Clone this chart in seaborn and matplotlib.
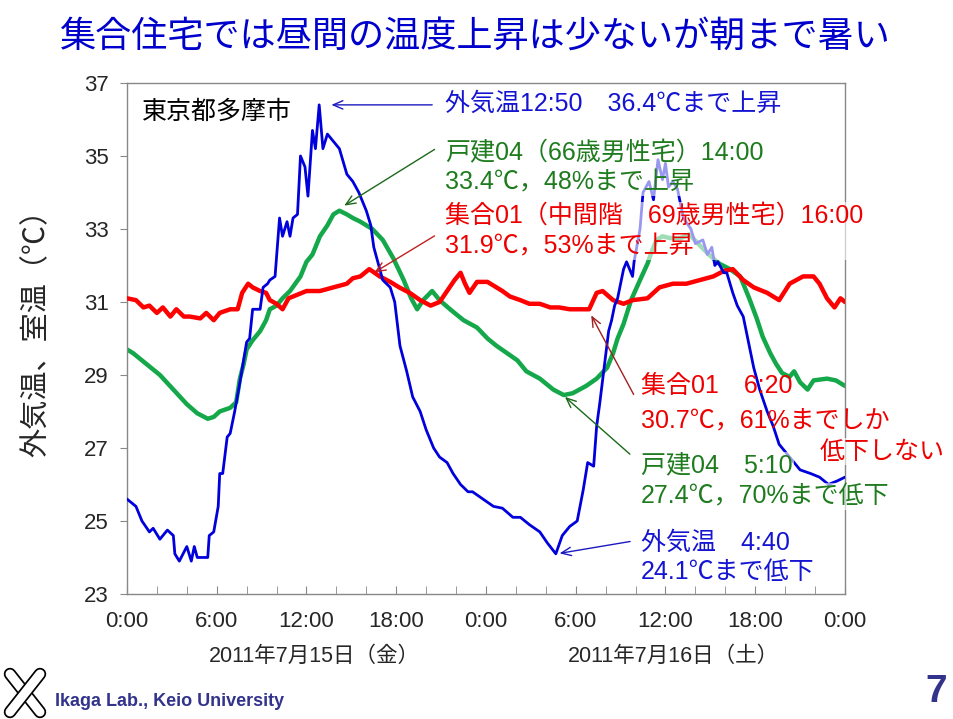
import numpy as np
import matplotlib.pyplot as plt
import seaborn as sns
import pandas as pd
from matplotlib.lines import Line2D

# hours from 2011-07-15 0:00, temperatures in degC
hours_out = [0.0, 0.6, 1.0, 1.5, 1.75, 2.2, 2.7, 3.1, 3.2, 3.5, 4.0, 4.3, 4.5, 4.7, 5.4, 5.5, 5.8,
             6.1, 6.2, 6.4, 6.7, 6.9, 7.2, 7.55, 8.0, 8.2, 8.4, 8.9, 9.1, 9.4, 9.55, 9.9, 10.2,
             10.4, 10.7, 10.9, 11.1, 11.4, 11.6, 11.9, 12.1, 12.4, 12.6, 12.85, 13.1, 13.4, 13.8,
             14.2, 14.7, 15.1, 15.5, 16.0, 16.3, 16.5, 16.9, 17.1, 17.6, 17.9, 18.25, 18.7, 19.1,
             19.6, 20.0, 20.5, 20.9, 21.4, 21.8, 22.3, 22.8, 23.1, 23.8, 24.5, 25.1, 25.8, 26.3,
             26.9, 27.6, 28.1, 28.67, 29.1, 29.6, 30.1, 30.5, 30.8, 31.2, 31.4, 31.6, 31.9, 32.2,
             32.4, 32.6, 32.8, 33.2, 33.4, 33.8, 33.9, 34.3, 34.5, 34.9, 35.2, 35.5, 35.8, 36.0,
             36.2, 36.5, 36.8, 37.0, 37.2, 37.7, 38.0, 38.5, 38.8, 39.1, 39.3, 39.5, 39.9, 40.1,
             40.5, 40.8, 41.2, 41.5, 41.9, 42.3, 42.8, 43.2, 43.6, 44.3, 45.0, 45.7, 46.3, 46.9,
             47.5, 48.0]
temp_out = [25.6, 25.4, 25.0, 24.7, 24.8, 24.5, 24.75, 24.6, 24.1, 23.9, 24.3, 23.9, 24.3, 24.0,
            24.0, 24.6, 24.7, 25.4, 26.3, 26.3, 27.3, 27.4, 28.0, 28.8, 29.9, 30.0, 30.8, 30.8,
            31.4, 31.5, 31.6, 31.7, 33.3, 32.8, 33.2, 32.8, 33.3, 33.4, 35.0, 34.7, 33.9, 35.7,
            35.2, 36.4, 35.2, 35.6, 35.4, 35.2, 34.5, 34.3, 34.0, 33.5, 33.1, 32.5, 31.9, 31.6,
            31.4, 31.0, 29.8, 29.1, 28.4, 28.0, 27.5, 27.0, 26.75, 26.6, 26.3, 26.0, 25.8, 25.8,
            25.6, 25.4, 25.35, 25.1, 25.1, 24.9, 24.7, 24.4, 24.1, 24.6, 24.85, 25.0, 25.85, 26.6,
            26.5, 27.6, 28.2, 29.2, 30.2, 30.5, 30.9, 31.1, 31.9, 32.1, 31.7, 32.1, 33.0, 34.0,
            34.3, 33.8, 34.9, 34.35, 34.8, 34.15, 34.3, 34.1, 33.7, 33.3, 33.0, 32.6, 32.7, 32.3,
            32.5, 32.0, 32.1, 31.8, 31.8, 31.25, 30.9, 30.6, 30.0, 29.2, 28.6, 28.0, 27.6, 27.1,
            26.75, 26.4, 26.3, 26.2, 26.0, 26.1, 26.2]

hours_house = [0.0, 0.4, 1.3, 2.2, 3.1, 4.0, 4.7, 5.4, 5.8, 6.2, 6.9, 7.3, 7.55, 7.8, 8.0, 8.4,
               8.9, 9.3, 9.55, 10.0, 10.4, 10.9, 11.6, 12.0, 12.4, 12.9, 13.4, 13.8, 14.2, 14.7,
               15.1, 15.6, 16.4, 17.1, 17.8, 18.5, 19.0, 19.4, 19.8, 20.4, 20.9, 21.6, 22.5, 23.4,
               24.1, 24.7, 25.4, 26.1, 26.7, 27.6, 28.5, 29.2, 29.8, 30.7, 31.4, 32.1, 32.5, 32.8,
               33.2, 33.7, 34.3, 34.8, 35.1, 35.4, 35.8, 36.3, 37.0, 37.6, 38.3, 38.9, 39.6, 40.3,
               41.0, 41.6, 42.1, 42.5, 43.0, 43.4, 43.8, 44.3, 44.6, 45.0, 45.5, 45.9, 46.8, 47.4,
               48.0]
temp_house = [29.7, 29.6, 29.3, 29.0, 28.6, 28.2, 27.95, 27.8, 27.85, 28.0, 28.1, 28.25, 28.9,
              29.3, 29.7, 29.95, 30.2, 30.5, 30.8, 30.9, 31.1, 31.3, 31.7, 32.1, 32.3, 32.8, 33.1,
              33.4, 33.5, 33.4, 33.3, 33.2, 33.0, 32.7, 32.2, 31.6, 31.1, 30.8, 31.05, 31.3, 31.05,
              30.8, 30.5, 30.3, 30.0, 29.8, 29.6, 29.4, 29.1, 28.9, 28.6, 28.45, 28.5, 28.7, 28.9,
              29.2, 29.6, 30.0, 30.4, 31.05, 31.6, 32.05, 32.4, 32.7, 32.8, 32.75, 32.75, 32.85,
              32.55, 32.3, 32.05, 31.9, 31.7, 31.1, 30.55, 30.05, 29.6, 29.3, 29.05, 28.95, 29.1,
              28.8, 28.6, 28.85, 28.9, 28.85, 28.7]

hours_apt = [0.0, 0.6, 1.1, 1.5, 2.0, 2.4, 2.9, 3.3, 3.8, 4.2, 4.9, 5.3, 5.8, 6.2, 6.9, 7.4, 7.7,
             8.1, 8.4, 8.9, 9.3, 9.55, 10.0, 10.4, 10.8, 11.4, 12.0, 12.9, 13.8, 14.7, 15.1, 15.6,
             16.2, 16.9, 17.6, 18.2, 18.9, 19.6, 20.3, 20.9, 21.4, 21.9, 22.3, 22.6, 22.9, 23.4,
             24.1, 24.7, 25.1, 25.6, 26.3, 26.9, 27.6, 28.3, 28.9, 29.6, 30.3, 30.9, 31.4, 31.8,
             32.5, 33.2, 33.8, 34.8, 35.6, 36.5, 37.4, 38.3, 39.2, 39.9, 40.5, 41.2, 41.9, 42.8,
             43.6, 44.3, 45.2, 45.9, 46.3, 46.8, 47.3, 47.7, 48.0]
temp_apt = [31.1, 31.05, 30.85, 30.9, 30.7, 30.85, 30.6, 30.8, 30.6, 30.6, 30.55, 30.7, 30.5,
            30.7, 30.8, 30.8, 31.25, 31.5, 31.4, 31.3, 31.25, 31.05, 30.95, 30.8, 31.1, 31.2,
            31.3, 31.3, 31.4, 31.5, 31.65, 31.7, 31.9, 31.7, 31.55, 31.4, 31.25, 31.05, 30.9,
            31.0, 31.3, 31.6, 31.8, 31.5, 31.25, 31.55, 31.55, 31.4, 31.3, 31.15, 31.05, 30.95,
            30.95, 30.85, 30.85, 30.8, 30.8, 30.8, 31.25, 31.3, 31.05, 30.95, 31.05, 31.1, 31.4,
            31.5, 31.5, 31.6, 31.7, 31.85, 31.9, 31.6, 31.4, 31.25, 31.05, 31.5, 31.7, 31.7, 31.5,
            31.1, 30.85, 31.1, 31.0]

x_ticks = [0, 6, 12, 18, 24, 30, 36, 42, 48]
x_ticklabels = ['0:00', '6:00', '12:00', '18:00', '0:00', '6:00', '12:00', '18:00', '0:00']
y_ticks = [23, 25, 27, 29, 31, 33, 35, 37]
day_labels = ['2011年7月15日（金）', '2011年7月16日（土）']

sns.set_style('white')
plt.rcParams['font.family'] = ['Liberation Sans', 'Noto Sans CJK JP']

fig = plt.figure(figsize=(9.54, 7.19), dpi=100)
ax = fig.add_axes([0.1331, 0.1739, 0.7526, 0.7107])

sns.lineplot(x=hours_house, y=temp_house, color='#14a84a', lw=3.2, ax=ax, zorder=2)
sns.lineplot(x=hours_apt, y=temp_apt, color='#ff0000', lw=3.2, ax=ax, zorder=3)
sns.lineplot(x=hours_out, y=temp_out, color='#0000dd', lw=2.0, ax=ax, zorder=4)

ax.set_xlim(0, 48)
ax.set_ylim(23, 37)
ax.set_xticks(x_ticks)
ax.set_xticklabels(x_ticklabels)
ax.set_xticks(range(0, 49, 2), minor=True)
ax.set_yticks(y_ticks)
ax.tick_params(axis='x', which='both', direction='in', length=6, color='#888888',
               labelsize=16, pad=12, bottom=True)
ax.tick_params(axis='y', direction='out', length=5, color='#888888', labelsize=16, pad=8, left=True)
for s in ax.spines.values():
    s.set_color('#888888')
    s.set_linewidth(1)
ax.set_xlabel('')
ax.set_ylabel('外気温、室温（℃）', fontsize=21)
ax.yaxis.set_label_coords(-0.107, 0.525)

for x, lab in zip([12.5, 36.5], day_labels):
    ax.text(x, -0.123, lab, transform=ax.get_xaxis_transform(), ha='center', va='center',
            fontsize=15.5)

ax.text(1.0, 36.2, '東京都多摩市', fontsize=18, color='black', va='center')

box = dict(facecolor='white', alpha=0.6, edgecolor='none', pad=1)
blue_t = '#1414d2'
green_t = '#1e7b1e'
red_t = '#ee0000'
fs = 18
ax.text(21.26, 36.42, '外気温12:50　36.4℃まで上昇', color=blue_t, fontsize=fs, va='center',
        zorder=6)
ax.text(21.26, 34.68, '戸建04（66歳男性宅）14:00\n33.4℃，48%まで上昇', color=green_t,
        fontsize=fs, va='center', linespacing=1.3, bbox=box, zorder=6)
ax.text(21.26, 32.95, '集合01（中間階　69歳男性宅）16:00\n31.9℃，53%まで上昇', color=red_t,
        fontsize=fs, va='center', linespacing=1.35, bbox=box, zorder=6)
ax.text(34.36, 28.22, '集合01　6:20\n30.7℃，61%までしか', color=red_t, fontsize=fs,
        va='center', linespacing=1.6, zorder=6)
ax.text(46.32, 26.9, '低下しない', color=red_t, fontsize=fs, va='center', bbox=box, zorder=6)
ax.text(34.36, 26.53, '戸建04　5:10', color=green_t, fontsize=fs, va='center', bbox=box,
        zorder=6)
ax.text(34.36, 25.68, '27.4℃，70%まで低下', color=green_t, fontsize=fs, va='center', bbox=box,
        zorder=6)
ax.text(34.36, 24.0, '外気温　4:40\n24.1℃まで低下', color=blue_t, fontsize=fs,
        va='center', linespacing=1.25, zorder=6)

arrows = [((13.48, 36.4), (20.59, 36.4), '#1a1ac0'),
          ((14.37, 33.6), (20.72, 35.22), '#1a6a1a'),
          ((16.38, 31.77), (20.72, 32.85), '#c02020'),
          ((30.95, 30.7), (33.96, 28.4), '#a02020'),
          ((29.14, 28.45), (33.76, 26.78), '#1a6a1a'),
          ((28.74, 24.1), (33.82, 24.45), '#1a1ac0')]
for tip, tail, c in arrows:
    ax.annotate('', xy=tip, xytext=tail,
                arrowprops=dict(arrowstyle='->,head_length=0.7,head_width=0.3', color=c, lw=1),
                zorder=7)

fig.text(475 / 954, 1 - 37 / 719, '集合住宅では昼間の温度上昇は少ないが朝まで暑い',
         ha='center', va='center', fontsize=26, color='#0000cc')
fig.text(55 / 954, 1 - 702 / 719, 'Ikaga Lab., Keio University', ha='left', va='center',
         fontsize=13, fontweight='bold', color='#33338c')
fig.text(936 / 954, 1 - 692 / 719, '7', ha='center', va='center', fontsize=28,
         fontweight='bold', color='#33338c')

# simple crossed-pen logo
for (x0, y0, x1, y1) in [(10, 674, 40, 712), (40, 674, 10, 712)]:
    xs = [x0 / 954, x1 / 954]
    ys = [1 - y0 / 719, 1 - y1 / 719]
    fig.add_artist(Line2D(xs, ys, color='black', lw=9, solid_capstyle='round'))
    fig.add_artist(Line2D(xs, ys, color='white', lw=6.5, solid_capstyle='round'))

fig.savefig('out.png', dpi=100)
